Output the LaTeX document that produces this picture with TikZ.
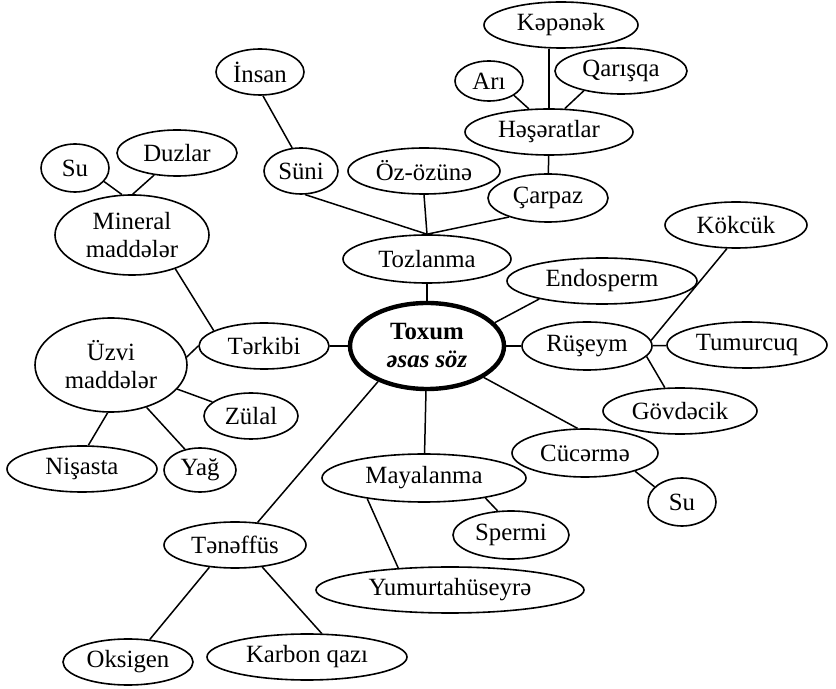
\documentclass[tikz,border=0pt]{standalone}
\usepackage{fontspec}
\setmainfont{Liberation Serif}
\usetikzlibrary{shapes.geometric}
\begin{document}
\begin{tikzpicture}[x=0.5pt,y=-0.5pt,
  el/.style={ellipse, draw, line width=0.8pt, inner sep=0pt, font=\fontsize{12.4}{14}\selectfont, align=center},
  sz/.style 2 args={minimum width=#1*0.5pt, minimum height=#2*0.5pt},
  ln/.style={line width=0.75pt},
  main/.style={line width=2.2pt}
]
\useasboundingbox (0,0) rectangle (836,689);
\node[el,main,sz={154}{86}] (tox) at (427,346) {\textbf{Toxum}\\\textbf{\textit{əsas söz}}};
\node[el,sz={168}{48}] (toz) at (427,259) {Tozlanma};
\node[el,sz={74}{46}] (sun) at (301,171) {Süni};
\node[el,sz={88}{46}] (ins) at (260,72) {İnsan};
\node[el,sz={152}{46}] (oz) at (424,171) {Öz-özünə};
\node[el,sz={120}{48}] (car) at (548,198) {Çarpaz};
\node[el,sz={168}{46}] (has) at (549,132) {Həşəratlar};
\node[el,sz={154}{46}] (kep) at (561,25) {Kəpənək};
\node[el,sz={68}{40}] (ari) at (489,81) {Arı};
\node[el,sz={132}{46}] (qar) at (621,71) {Qarışqa};
\node[el,sz={142}{46}] (kok) at (736,225) {Kökcük};
\node[el,sz={190}{46}] (endo) at (602,281) {Endosperm};
\node[el,sz={130}{48}] (rus) at (587,346) {Rüşeym};
\node[el,sz={160}{46}] (tum) at (747,345) {Tumurcuq};
\node[el,sz={154}{46}] (gov) at (680,411) {Gövdəcik};
\node[el,sz={146}{48}] (cuc) at (585,453) {Cücərmə};
\node[el,sz={68}{48}] (suB) at (682,502) {Su};
\node[el,sz={204}{48}] (may) at (424,478) {Mayalanma};
\node[el,sz={116}{48}] (spe) at (511,535) {Spermi};
\node[el,sz={268}{46}] (yum) at (450,590) {Yumurtahüseyrə};
\node[el,sz={142}{46}] (ten) at (235,545) {Tənəffüs};
\node[el,sz={130}{46}] (oks) at (128,662) {Oksigen};
\node[el,sz={200}{46}] (kar) at (307,657) {Karbon qazı};
\node[el,sz={130}{46}] (ter) at (264,346) {Tərkibi};
\node[el,sz={152}{94}] (uzv) at (111,365) {Üzvi\\maddələr};
\node[el,sz={94}{46}] (zul) at (251,416) {Zülal};
\node[el,sz={150}{46}] (nis) at (82,469) {Nişasta};
\node[el,sz={72}{44}] (yag) at (200,470) {Yağ};
\node[el,sz={154}{80}] (min) at (132,235) {Mineral\\maddələr};
\node[el,sz={68}{48}] (suA) at (75,168) {Su};
\node[el,sz={120}{46}] (duz) at (177,153) {Duzlar};

\begin{scope}[ln]
\draw (tox) -- (toz);
\draw (sun.-80) -- (toz.north);
\draw (oz.south) -- (toz.north);
\draw (car.206) -- (toz.north);
\draw (ins.-83) -- (sun.111);
\draw (car) -- (has);
\draw (has.north) -- (has.north |- kep.south);
\draw (ari.-30) -- (has.131);
\draw (qar.208) -- (has.56);
\draw (tox.19) -- (endo.196);
\draw (tox) -- (rus);
\draw (rus) -- (tum);
\draw (rus.5) -- (kok.-111);
\draw (rus.-10) -- (gov.123);
\draw (tox.-29) -- (cuc.107);
\draw (cuc.-20) -- (suB.151);
\draw (tox) -- (may);
\draw (may.-18) -- (spe.119);
\draw (may.200) -- (yum.157);
\draw (tox.216.5) -- (ten.45);
\draw (ten.221) -- (oks.46);
\draw (ten.-39) -- (kar.58);
\draw (tox) -- (ter);
\draw (ter.163) -- (min.-38);
\draw (uzv.6) -- (ter.west);
\draw (uzv.-20) -- (zul.160);
\draw (uzv.-94) -- (nis.75);
\draw (uzv.-50) -- (yag.126);
\draw (min.104) -- (suA.-25);
\draw (min.89) -- (duz.224);
\end{scope}
\end{tikzpicture}
\end{document}
